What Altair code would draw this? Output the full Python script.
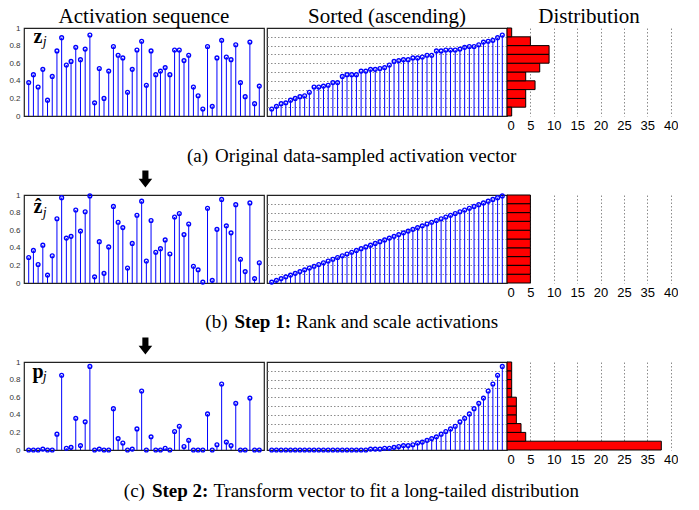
import altair as alt
import pandas as pd

# ---------------- data ----------------
z = [0.38, 0.47, 0.33, 0.53, 0.18, 0.45, 0.74, 0.89, 0.58, 0.62,
     0.78, 0.64, 0.76, 0.92, 0.15, 0.54, 0.20, 0.51, 0.79, 0.69,
     0.66, 0.27, 0.53, 0.75, 0.85, 0.35, 0.74, 0.47, 0.51, 0.55,
     0.47, 0.75, 0.75, 0.63, 0.69, 0.33, 0.23, 0.08, 0.79, 0.11,
     0.66, 0.86, 0.67, 0.64, 0.81, 0.38, 0.22, 0.84, 0.14, 0.34]
z_hat = [0.29, 0.37, 0.21, 0.43, 0.09, 0.31, 0.73, 0.97, 0.51, 0.53,
         0.83, 0.59, 0.81, 0.99, 0.07, 0.47, 0.11, 0.41, 0.87, 0.69,
         0.63, 0.17, 0.45, 0.77, 0.93, 0.25, 0.71, 0.35, 0.39, 0.49,
         0.33, 0.75, 0.79, 0.55, 0.67, 0.19, 0.15, 0.01, 0.85, 0.03,
         0.61, 0.95, 0.65, 0.57, 0.89, 0.27, 0.13, 0.91, 0.05, 0.23]
p = [0.00, 0.00, 0.00, 0.01, 0.00, 0.00, 0.18, 0.85, 0.02, 0.03,
     0.36, 0.05, 0.32, 0.95, 0.00, 0.01, 0.00, 0.00, 0.47, 0.13,
     0.08, 0.00, 0.01, 0.24, 0.67, 0.00, 0.15, 0.00, 0.00, 0.02,
     0.00, 0.21, 0.27, 0.04, 0.11, 0.00, 0.00, 0.00, 0.41, 0.00,
     0.06, 0.75, 0.09, 0.05, 0.53, 0.00, 0.00, 0.59, 0.00, 0.00]

act_ticks = [0, 0.2, 0.4, 0.6, 0.8, 1]
grid_levels = [0.1, 0.2, 0.3, 0.4, 0.5, 0.6, 0.7, 0.8, 0.9]
hist_ticks = [0, 5, 10, 15, 20, 25, 30, 35]
titles = ["Activation sequence", "Sorted (ascending)", "Distribution"]

# ---------------- style ----------------
W_ACT, W_SORT, W_HIST, H = 240, 240, 166, 88
BLUE = "#0000ff"
SERIF = "Liberation Serif"
SANS = "Liberation Sans"
FRAME = alt.ViewBackground(stroke="#222222", strokeWidth=1.2)
xs = alt.Scale(domain=[0, 51], nice=False, zero=False)
ys = alt.Scale(domain=[0, 1], nice=False)
ARROW = "M-0.36,-1L0.36,-1L0.36,-0.03L0.8,-0.03L0,1L-0.8,-0.03L-0.36,-0.03Z"
CAP = 19
TIT = 21
X0 = 22.3  # page x of activation panel left edge (for annotation offsets)


def txt(s, x, y, size, weight="normal", style="normal", align="left", baseline="middle"):
    return alt.Chart(pd.DataFrame({"t": [s]})).mark_text(
        font=SERIF, fontSize=size, fontWeight=weight, fontStyle=style,
        align=align, baseline=baseline, color="black"
    ).encode(x=alt.value(x), y=alt.value(y), text="t:N")


def arrow(x, y):
    return alt.Chart(pd.DataFrame({"a": [0]})).mark_point(
        shape=ARROW, filled=True, color="black", size=289, opacity=1
    ).encode(x=alt.value(x), y=alt.value(y))


def act_panel(vals, extra):
    df = pd.DataFrame({"i": list(range(1, len(vals) + 1)), "v": vals})
    base = alt.Chart(df)
    yax = alt.Axis(values=act_ticks, format="~g", labelFont=SANS, labelFontSize=8,
                   labelColor="#333333", domain=False, ticks=False, grid=False,
                   labelPadding=4, title=None)
    stems = base.mark_rule(color=BLUE, strokeWidth=1).encode(
        x=alt.X("i:Q", scale=xs, axis=None),
        y=alt.Y("v:Q", scale=ys, axis=yax),
        y2=alt.datum(0))
    dots = base.mark_point(shape="circle", filled=False, color=BLUE, size=14,
                           strokeWidth=1.4, opacity=1).encode(
        x=alt.X("i:Q", scale=xs, axis=None),
        y=alt.Y("v:Q", scale=ys, axis=yax))
    return alt.layer(stems, dots, *extra).properties(width=W_ACT, height=H, view=FRAME)


def sorted_panel(vals, extra):
    df = pd.DataFrame({"v": vals})
    base = alt.Chart(df).transform_window(
        r="row_number()", sort=[alt.SortField("v", order="ascending")])
    gax = alt.Axis(values=grid_levels, grid=True, gridDash=[1.5, 2], gridColor="#8c8c8c",
                   gridWidth=1, labels=False, ticks=False, domain=False, title=None)
    stems = base.mark_rule(color=BLUE, strokeWidth=1).encode(
        x=alt.X("r:Q", scale=xs, axis=None),
        y=alt.Y("v:Q", scale=ys, axis=gax),
        y2=alt.datum(0))
    dots = base.mark_point(shape="circle", filled=False, color=BLUE, size=14,
                           strokeWidth=1.4, opacity=1).encode(
        x=alt.X("r:Q", scale=xs, axis=None),
        y=alt.Y("v:Q", scale=ys, axis=gax))
    return alt.layer(stems, dots, *extra).properties(width=W_SORT, height=H, view=FRAME)


def hist_panel(vals, extra):
    df = pd.DataFrame({"v": vals})
    base = alt.Chart(df).transform_bin(
        as_=["b0", "b1"], field="v", bin=alt.Bin(extent=[0, 1], step=0.1)
    ).transform_aggregate(n="count()", groupby=["b0", "b1"])
    hx = alt.Axis(values=hist_ticks,
                  labelExpr="datum.value >= 30 ? datum.value + 5 : datum.value",
                  grid=True, gridDash=[1.5, 2], gridColor="#8c8c8c", domain=False,
                  ticks=False, labelFont=SANS, labelFontSize=13, labelColor="black",
                  labelPadding=3, labelFlush=1, title=None)
    bars = base.mark_bar(color="#ff0000", stroke="black", strokeWidth=1, opacity=1).encode(
        x=alt.X("n:Q", scale=alt.Scale(domain=[0, 35.5], nice=False), axis=hx),
        x2=alt.datum(0),
        y=alt.Y("b0:Q", scale=ys, axis=None),
        y2="b1:Q")
    return alt.layer(bars, *extra).properties(width=W_HIST, height=H)


def row(vals, act_extra, sort_extra, hist_extra):
    a = act_panel(vals, act_extra)
    s = sorted_panel(vals, sort_extra)
    h = hist_panel(vals, hist_extra)
    return alt.hconcat(a, alt.hconcat(s, h, spacing=0, bounds="flush"),
                       spacing=3, bounds="flush")


CY = 128  # caption centre, relative to the row's top edge
r1 = row(z,
         [txt("z", 9.4, 14.7, 20, weight="bold", baseline="alphabetic"),
          txt("j", 18.8, 17.5, 14, style="italic", baseline="alphabetic"),
          txt(titles[0], W_ACT / 2, -5, TIT, align="center", baseline="alphabetic"),
          txt("(a)", 185.3 - X0, CY, CAP),
          txt("Original data-sampled activation vector", 213.4 - X0, CY, CAP)],
         [txt(titles[1], W_SORT / 2, -5, TIT, align="center", baseline="alphabetic")],
         [txt(titles[2], 82, -5, TIT, align="center", baseline="alphabetic")])

r2 = row(z_hat,
         [txt("\u1e91", 9.4, 18, 20, weight="bold", baseline="alphabetic"),
          txt("j", 18.8, 21.5, 14, style="italic", baseline="alphabetic"),
          arrow(121.4, -16),
          txt("(b)", 203.6 - X0, CY - 1, CAP),
          txt("Step 1:", 232.8 - X0, CY - 1, CAP, weight="bold"),
          txt("Rank and scale activations", 294.3 - X0, CY - 1, CAP)],
         [], [])

r3 = row(p,
         [txt("p", 8.6, 16, 20, weight="bold", baseline="alphabetic"),
          txt("j", 18.8, 19, 14, style="italic", baseline="alphabetic"),
          arrow(121.4, -16),
          txt("(c)", 122.1 - X0, CY + 1, CAP),
          txt("Step 2:", 150.2 - X0, CY + 1, CAP, weight="bold"),
          txt("Transform vector to fit a long-tailed distribution", 211.7 - X0, CY + 1, CAP)],
         [], [])

chart = alt.vconcat(r1, r2, r3, spacing=167, bounds="flush").properties(
    padding={"top": -3, "left": 0, "right": 0, "bottom": 0}
).configure_view(strokeWidth=0)

chart.save("out.html", embed_options={"renderer": "svg", "actions": False})
